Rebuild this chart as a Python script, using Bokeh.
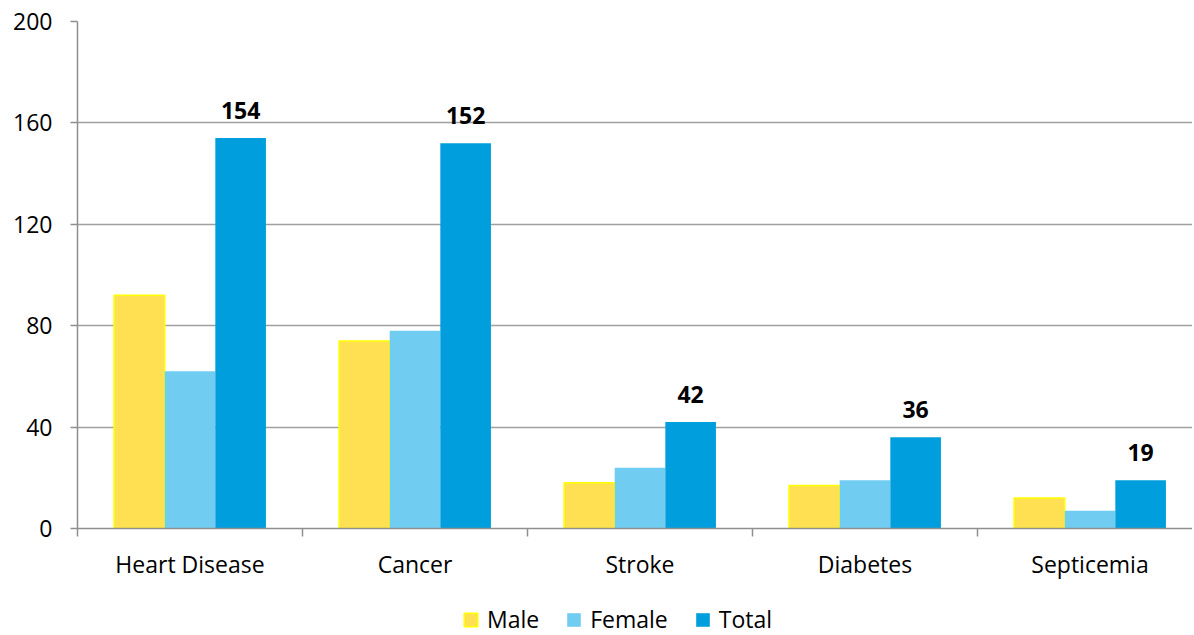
import numpy as np
from bokeh.plotting import figure
from bokeh.layouts import column
from bokeh.models import (ColumnDataSource, Range1d, FixedTicker, LabelSet,
                          Legend, LegendItem)
from bokeh.core.properties import value
from bokeh.transform import dodge
from bokeh.embed import file_html
from bokeh.resources import INLINE

categories = ["Heart Disease", "Cancer", "Stroke", "Diabetes", "Septicemia"]
male = [92, 74, 18, 17, 12]
female = [62, 78, 24, 19, 7]
total = [154, 152, 42, 36, 19]
y_ticks = [0, 40, 80, 120, 160, 200]
series = ["Male", "Female", "Total"]
colors = ["#FFE052", "#71CCF2", "#009EDC"]
outlines = ["#FFFF00", None, None]

FONT = "Open Sans"
centers = np.arange(len(categories)) + 0.5
bw = 0.225

src = ColumnDataSource(dict(
    x=centers, cat=categories, male=male, female=female, total=total,
    total_lbl=[str(v) for v in total],
))

W = 1192
HM, HL = 590, 45
p = figure(width=W, height=HM, output_backend="svg", toolbar_location=None,
           x_range=Range1d(0, (W - 77) / 225), y_range=Range1d(0, 200),
           min_border_left=77, min_border_top=21, min_border_right=0,
           min_border_bottom=HM - 528)
p.outline_line_color = None

p.vbar(x=dodge("x", -bw, range=p.x_range), top="male", width=bw, source=src,
       fill_color=colors[0], line_color=outlines[0], line_width=1.5)
p.vbar(x="x", top="female", width=bw, source=src,
       fill_color=colors[1], line_color=None)
p.vbar(x=dodge("x", bw, range=p.x_range), top="total", width=bw, source=src,
       fill_color=colors[2], line_color=None)

labels = LabelSet(x=dodge("x", bw, range=p.x_range), y="total", text="total_lbl", source=src,
                  text_align="center", text_baseline="alphabetic", y_offset=19,
                  text_font=value(FONT), text_font_style="bold", text_font_size="23px",
                  text_color="black")
p.add_layout(labels)

p.xgrid.grid_line_color = None
p.ygrid.grid_line_color = "#A0A0A0"
p.ygrid.grid_line_width = 1.5
p.ygrid.ticker = FixedTicker(ticks=y_ticks)

ya = p.yaxis[0]
ya.ticker = FixedTicker(ticks=y_ticks)
ya.axis_line_color = "#8F8F8F"
ya.axis_line_width = 1.5
ya.major_tick_line_color = "#8F8F8F"
ya.major_tick_line_width = 1.5
ya.major_tick_out = 7
ya.major_tick_in = 0
ya.minor_tick_line_color = None
ya.major_label_standoff = 18
ya.major_label_text_font = FONT
ya.major_label_text_font_size = "23px"
ya.major_label_text_color = "black"

xa = p.xaxis[0]
xa.ticker = FixedTicker(ticks=list(centers),
                        minor_ticks=list(range(len(categories) + 1)))
xa.major_label_overrides = {float(c): n for c, n in zip(centers, categories)}
xa.axis_line_color = "#8F8F8F"
xa.axis_line_width = 1.5
xa.major_tick_line_color = None
xa.minor_tick_line_color = "#8F8F8F"
xa.minor_tick_line_width = 1.5
xa.minor_tick_out = 8
xa.minor_tick_in = 0
xa.major_label_standoff = 11
xa.major_label_text_font = FONT
xa.major_label_text_font_size = "23px"
xa.major_label_text_color = "black"

# legend strip below the chart (its frame is aligned with the chart frame)
lg = figure(width=W, height=HL, output_backend="svg", toolbar_location=None,
            x_axis_location=None, y_axis_location=None,
            min_border=0, x_range=Range1d(0, 1), y_range=Range1d(1, 2))
lg.outline_line_color = None
lg.xgrid.grid_line_color = None
lg.ygrid.grid_line_color = None
items = []
for name, c, oc in zip(series, colors, outlines):
    # zero-size swatch renderer, only used to draw the legend glyph
    r = lg.vbar(x=[0.5], top=[0], bottom=[0], width=0, fill_color=c,
                line_color=oc, line_width=1.5)
    items.append(LegendItem(label=name, renderers=[r]))
legend = Legend(items=items, orientation="horizontal", location=(462 - 77, 0),
                border_line_color=None, background_fill_alpha=0,
                label_text_font=FONT, label_text_font_size="23px",
                label_text_color="black",
                glyph_width=17, glyph_height=17, label_standoff=8,
                spacing=26, margin=0, padding=0)
lg.add_layout(legend)

layout = column(p, lg, spacing=0)
open("out.html", "w").write(file_html(layout, INLINE))
